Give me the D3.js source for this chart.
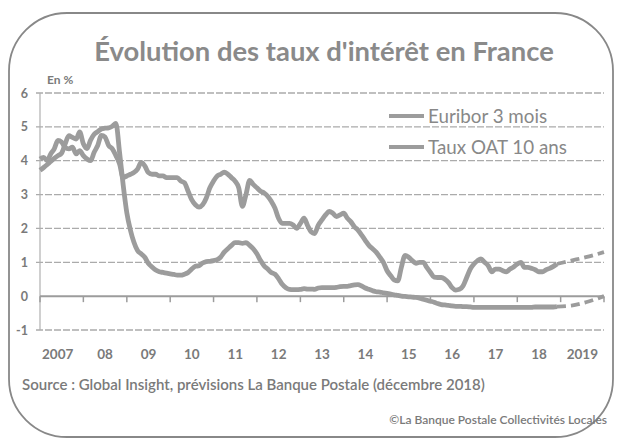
<!DOCTYPE html>
<html>
<head>
<meta charset="utf-8">
<script src="https://cdn.jsdelivr.net/npm/d3@7"></script>
<style>
  body { margin: 0; background: #fff; }
  svg { display: block; font-family: Lato, "Open Sans", sans-serif; }
</style>
</head>
<body>
<div class="chart"></div>
<script>
const width = 619;
const height = 441;

// DATA //
const yearLabels = ["2007", "08", "09", "10", "11", "12", "13", "14", "15", "16", "17", "18", "2019"];
const yTicks = [-1, 0, 1, 2, 3, 4, 5, 6];

// monthly averages, Jan 2007 -> Dec 2018
const oat = [
  4.05, 4.1, 4.0, 4.2, 4.35, 4.6, 4.55, 4.4, 4.35, 4.4, 4.2, 4.3,
  4.15, 4.05, 4.0, 4.25, 4.45, 4.75, 4.7, 4.45, 4.35, 4.15, 3.9, 3.5,
  3.55, 3.6, 3.65, 3.75, 3.95, 3.85, 3.65, 3.6, 3.6, 3.55, 3.55, 3.5,
  3.5, 3.5, 3.5, 3.4, 3.35, 3.1, 2.85, 2.7, 2.63, 2.7, 2.9, 3.2,
  3.4, 3.55, 3.6, 3.66, 3.6, 3.5, 3.4, 3.2, 2.65, 3.0, 3.42, 3.3,
  3.2, 3.1, 3.05, 2.95, 2.8, 2.6, 2.3, 2.15, 2.15, 2.15, 2.1, 2.0,
  2.15, 2.3, 2.1, 1.9, 1.85, 2.1, 2.25, 2.4, 2.5, 2.45, 2.35, 2.4,
  2.45, 2.3, 2.2, 2.05, 1.95, 1.8, 1.65, 1.5, 1.4, 1.3, 1.15, 1.0,
  0.75, 0.6, 0.48, 0.45, 0.85, 1.2, 1.15, 1.05, 0.97, 1.0, 1.0, 0.85,
  0.7, 0.56, 0.55, 0.55, 0.5, 0.4, 0.25, 0.18, 0.2, 0.3, 0.55, 0.8,
  0.95, 1.05, 1.1, 1.0, 0.9, 0.72, 0.8, 0.8, 0.75, 0.72, 0.8, 0.86,
  0.95, 1.0, 0.85, 0.85, 0.82, 0.78, 0.72, 0.72, 0.78, 0.82, 0.88, 0.95
];
const euribor = [
  3.72, 3.8, 3.88, 3.98, 4.07, 4.15, 4.22, 4.5, 4.74, 4.69, 4.64, 4.85,
  4.5, 4.36, 4.6, 4.78, 4.86, 4.94, 4.96, 4.97, 5.02, 5.1, 4.24, 3.29,
  2.46, 1.94, 1.6, 1.35, 1.25, 1.15, 0.97, 0.86, 0.77, 0.72, 0.7, 0.68,
  0.66, 0.64, 0.62, 0.62, 0.65, 0.7, 0.8, 0.88, 0.9, 0.98, 1.02, 1.03,
  1.05, 1.08, 1.15, 1.3, 1.4, 1.5, 1.58, 1.58, 1.56, 1.58, 1.5, 1.4,
  1.25, 1.05, 0.9, 0.8, 0.7, 0.65, 0.52, 0.35, 0.25, 0.2, 0.19, 0.19,
  0.2, 0.22, 0.21, 0.21, 0.2, 0.24, 0.25, 0.25, 0.25, 0.25, 0.26, 0.28,
  0.29, 0.29, 0.31, 0.33, 0.34, 0.3, 0.24, 0.2, 0.16, 0.13, 0.12, 0.1,
  0.08, 0.06, 0.04, 0.02, 0.0, -0.01, -0.02, -0.03, -0.04, -0.06, -0.09, -0.12,
  -0.15, -0.18, -0.22, -0.25, -0.26, -0.27, -0.29, -0.3, -0.3, -0.31, -0.31, -0.32,
  -0.33, -0.33, -0.33, -0.33, -0.33, -0.33, -0.33, -0.33, -0.33, -0.33, -0.33, -0.33,
  -0.33, -0.33, -0.33, -0.33, -0.33, -0.32, -0.32, -0.32, -0.32, -0.32, -0.32, -0.31
];
// forecasts (dashed)
const forecastMonths = ["2018-12", "2019-04", "2019-08", "2020-01"];
const oatForecast = [0.95, 1.05, 1.15, 1.3];
const euriborForecast = [-0.31, -0.28, -0.18, 0.0];

const parseMonth = d3.timeParse("%Y-%m");
const months = d3.timeMonth.range(new Date(2007, 0, 1), new Date(2019, 0, 1));

// CREATE SVG //
const svg = d3.select(".chart")
    .append("svg")
    .attr("width", width)
    .attr("height", height)
    .attr("viewBox", [0, 0, width, height]);

const gray = "#9c9c9c";
const textGray = "#7a7a7a";

// rounded frame
svg.append("rect")
    .attr("x", 9).attr("y", 13)
    .attr("width", 604).attr("height", 424)
    .attr("rx", 58).attr("ry", 58)
    .attr("fill", "none")
    .attr("stroke", "#888")
    .attr("stroke-width", 1.8);

// title
svg.append("text")
    .attr("x", 324).attr("y", 61)
    .attr("text-anchor", "middle")
    .attr("font-size", 27.4)
    .attr("font-weight", "bold")
    .attr("fill", "#8a8a8a")
    .text("Évolution des taux d'intérêt en France");

svg.append("text")
    .attr("x", 47).attr("y", 84)
    .attr("font-size", 12)
    .attr("font-weight", "bold")
    .attr("fill", textGray)
    .text("En %");

// SCALES //
const x = d3.scaleTime()
    .domain([new Date(2007, 0, 1), new Date(2020, 0, 1)])
    .range([40, 604]);
const y = d3.scaleLinear()
    .domain([-1, 6])
    .range([330, 93]);

// gridlines
svg.append("g")
    .selectAll("line")
    .data(yTicks.filter(d => d !== 0))
    .join("line")
    .attr("x1", 36).attr("x2", 604)
    .attr("y1", d => y(d)).attr("y2", d => y(d))
    .attr("stroke", "#ababab")
    .attr("stroke-width", 1.3)
    .attr("stroke-dasharray", "7,2");

// y axis line
svg.append("line")
    .attr("x1", 40).attr("x2", 40)
    .attr("y1", y(6)).attr("y2", y(-1))
    .attr("stroke", "#b0b0b0")
    .attr("stroke-width", 1.2);

// zero line with year ticks
const yearStarts = d3.timeYear.range(new Date(2007, 0, 1), new Date(2021, 0, 1));
svg.append("line")
    .attr("x1", 40).attr("x2", 604)
    .attr("y1", y(0)).attr("y2", y(0))
    .attr("stroke", gray)
    .attr("stroke-width", 2);
svg.append("g")
    .selectAll("line")
    .data(yearStarts)
    .join("line")
    .attr("x1", d => x(d)).attr("x2", d => x(d))
    .attr("y1", y(0)).attr("y2", y(0) + 6)
    .attr("stroke", gray)
    .attr("stroke-width", 1.5);

// y labels
svg.append("g")
    .selectAll("text")
    .data(yTicks)
    .join("text")
    .attr("x", 28)
    .attr("y", d => y(d) + 4.5)
    .attr("text-anchor", "end")
    .attr("font-size", 12.5)
    .attr("font-weight", "bold")
    .attr("fill", textGray)
    .text(d => d);

// x labels centred in each year
svg.append("g")
    .selectAll("text")
    .data(yearLabels)
    .join("text")
    .attr("x", (d, i) => (x(yearStarts[i]) + x(yearStarts[i + 1])) / 2 - (i === 0 ? 4 : 0))
    .attr("y", 359)
    .attr("text-anchor", "middle")
    .attr("font-size", 13.5)
    .attr("font-weight", "bold")
    .attr("fill", textGray)
    .text(d => d);

// LINES //
const line = d3.line()
    .x(d => x(d[0]))
    .y(d => y(d[1]))
    .curve(d3.curveMonotoneX);

const series = [
  { name: "Taux OAT 10 ans", values: oat, forecast: oatForecast },
  { name: "Euribor 3 mois", values: euribor, forecast: euriborForecast }
];

series.forEach(s => {
    svg.append("path")
        .datum(months.map((m, i) => [m, s.values[i]]))
        .attr("d", line)
        .attr("fill", "none")
        .attr("stroke", gray)
        .attr("stroke-width", 4.8)
        .attr("stroke-linejoin", "round");
    svg.append("path")
        .datum(forecastMonths.map((m, i) => [parseMonth(m), s.forecast[i]]))
        .attr("d", line)
        .attr("fill", "none")
        .attr("stroke", gray)
        .attr("stroke-width", 3.8)
        .attr("stroke-dasharray", "9,5");
});

// LEGEND //
const legend = svg.append("g");
["Euribor 3 mois", "Taux OAT 10 ans"].forEach((name, i) => {
    const ly = 116 + i * 31;
    legend.append("line")
        .attr("x1", 389).attr("x2", 424)
        .attr("y1", ly).attr("y2", ly)
        .attr("stroke", gray)
        .attr("stroke-width", 4);
    legend.append("text")
        .attr("x", 428).attr("y", ly + 6.5)
        .attr("font-size", 18.8)
        .attr("fill", "#888")
        .text(name);
});

// SOURCES //
svg.append("text")
    .attr("x", 22).attr("y", 390)
    .attr("font-size", 15)
    .attr("font-weight", 600)
    .attr("fill", textGray)
    .text("Source : Global Insight, prévisions La Banque Postale (décembre 2018)");

svg.append("text")
    .attr("x", 607).attr("y", 424)
    .attr("text-anchor", "end")
    .attr("font-size", 12)
    .attr("font-weight", 600)
    .attr("fill", textGray)
    .text("©La Banque Postale Collectivités Locales");
</script>
</body>
</html>
